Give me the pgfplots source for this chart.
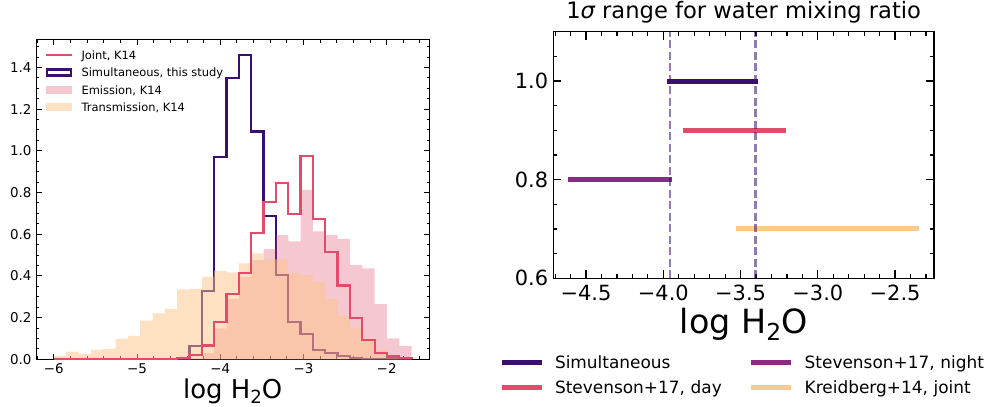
\documentclass[border=0pt]{standalone}
\usepackage{fontspec}
\setmainfont{DejaVu Sans}
\usepackage{graphicx}
\usepackage{pgfplots}
\pgfplotsset{compat=1.18}
\usepackage{pgfplotstable}

\definecolor{simul}{HTML}{3B0F70}
\definecolor{joint}{HTML}{E24C6A}
\definecolor{night}{HTML}{8C2981}
\definecolor{kreid}{HTML}{FDCA8E}
\definecolor{emis}{HTML}{DE4968}
\definecolor{trans}{HTML}{FEC488}

\newcommand\hsub[1]{\raisebox{-0.22em}{\scalebox{0.7}{#1}}}

% posterior densities of log H2O, shared bins from -6 to -1.7 (29 bins)
\pgfplotstableread{
edge    trans emis  joint simul
-6.0000 0.016 0     0     0
-5.8517 0.037 0     0     0
-5.7034 0.026 0     0     0
-5.5552 0.045 0     0     0
-5.4069 0.050 0     0     0
-5.2586 0.098 0     0     0
-5.1103 0.112 0     0     0
-4.9621 0.186 0     0     0
-4.8138 0.220 0     0     0
-4.6655 0.242 0     0.003 0
-4.5172 0.335 0     0.008 0
-4.3690 0.338 0.005 0.020 0.064
-4.2207 0.396 0.030 0.066 0.328
-4.0724 0.423 0.148 0.180 0.971
-3.9241 0.417 0.290 0.313 1.348
-3.7759 0.460 0.396 0.415 1.460
-3.6276 0.508 0.476 0.604 1.092
-3.4793 0.479 0.528 0.756 0.686
-3.3310 0.479 0.596 0.844 0.405
-3.1828 0.415 0.566 0.697 0.180
-3.0345 0.404 0.813 0.975 0.120
-2.8862 0.372 0.613 0.671 0.045
-2.7379 0.290 0.596 0.516 0.030
-2.5897 0.210 0.576 0.354 0.015
-2.4414 0.148 0.452 0.198 0.006
-2.2931 0.100 0.436 0.093 0
-2.1448 0.044 0.265 0.032 0
-1.9966 0.020 0.100 0.013 0
-1.8483 0.010 0.064 0.005 0
-1.7000 0     0     0     0
}\histdata

\begin{document}
\begin{tikzpicture}

% ---------------- left: histograms ----------------
\begin{axis}[
  at={(36bp,47.7bp)}, anchor=south west,
  scale only axis, width=393.5bp, height=319.3bp,
  xmin=-6.215, xmax=-1.485, ymin=0, ymax=1.5314,
  axis line style={line width=1bp, black},
  tick align=inside, tick pos=both,
  major tick length=5.5bp, minor tick length=3bp,
  every tick/.style={black, line width=0.9bp},
  xtick={-6,-5,-4,-3,-2},
  xticklabels={−6,−5,−4,−3,−2},
  ytick={0,0.2,0.4,0.6,0.8,1.0,1.2,1.4},
  yticklabels={0.0,0.2,0.4,0.6,0.8,1.0,1.2,1.4},
  minor xtick={-6.2,-6.0,...,-1.55},
  minor ytick={0,0.05,...,1.52},
  xticklabel style={font=\fontsize{13.5}{16}\selectfont, anchor=north, inner sep=0pt, yshift=-4bp},
  yticklabel style={font=\fontsize{13.5}{16}\selectfont, anchor=east, inner sep=0pt, xshift=-4.3bp},
  xlabel={log H\hsub{2}O},
  xlabel style={at={(axis description cs:0.5,-0.1221)}, anchor=base, inner sep=0pt, font=\fontsize{26}{30}\selectfont},
  legend style={at={(axis description cs:0.0229,0.9677)}, anchor=north west,
    draw=none, fill=none, inner sep=0pt, outer sep=0pt, row sep=5.4bp,
    font=\fontsize{11.5}{13}\selectfont,
    cells={anchor=base west},
    nodes={inner sep=0pt, outer sep=0pt, text height=9bp, text depth=3bp},
    /tikz/every odd column/.style={column sep=8.6bp}},
]
\addlegendimage{legend image code/.code={\draw[joint, line width=2.2bp] (0bp,4.3bp) -- (25.7bp,4.3bp);}}
\addlegendentry{Joint, K14}
\addlegendimage{legend image code/.code={\draw[simul, fill=none, line width=2.3bp] (1.1bp,1.3bp) rectangle (24.6bp,7.3bp);}}
\addlegendentry{Simultaneous, this study}
\addlegendimage{legend image code/.code={\fill[draw=none, fill=emis, fill opacity=0.3] (0bp,0.3bp) rectangle (25.7bp,8.3bp);}}
\addlegendentry{Emission, K14}
\addlegendimage{legend image code/.code={\fill[draw=none, fill=trans, fill opacity=0.5] (0bp,0.3bp) rectangle (25.7bp,8.3bp);}}
\addlegendentry{Transmission, K14}

\addplot[const plot, draw=simul, line width=2.3bp, forget plot]
  table[x=edge, y=simul]{\histdata};
\addplot[const plot, fill=emis, fill opacity=0.3, draw=none, forget plot]
  table[x=edge, y=emis]{\histdata} \closedcycle;
\addplot[const plot, fill=trans, fill opacity=0.5, draw=none, forget plot]
  table[x=edge, y=trans]{\histdata} \closedcycle;
\addplot[const plot, draw=joint, line width=2.2bp, forget plot]
  table[x=edge, y=joint]{\histdata};
\end{axis}

% ---------------- right: 1 sigma ranges ----------------
\begin{axis}[
  at={(553.3bp,128.7bp)}, anchor=south west,
  scale only axis, width=380.7bp, height=246.6bp,
  xmin=-4.712, xmax=-2.248, ymin=0.6, ymax=1.1,
  axis line style={line width=1.2bp, black},
  tick align=inside, tick pos=both,
  major tick length=8bp, minor tick length=4bp,
  every tick/.style={black, line width=1.2bp},
  xtick={-4.5,-4.0,-3.5,-3.0,-2.5},
  xticklabels={−4.5,−4.0,−3.5,−3.0,−2.5},
  ytick={0.6,0.8,1.0},
  yticklabels={0.6,0.8,1.0},
  minor xtick={-4.7,-4.6,...,-2.25},
  minor ytick={0.6,0.65,...,1.12},
  xticklabel style={font=\fontsize{21}{24}\selectfont, anchor=north, inner sep=0pt, yshift=-6.7bp},
  yticklabel style={font=\fontsize{21}{24}\selectfont, anchor=east, inner sep=0pt, xshift=-5bp},
  xlabel={log H\hsub{2}O},
  xlabel style={at={(axis description cs:0.5,-0.2230)}, anchor=base, inner sep=0pt, font=\fontsize{33.5}{40}\selectfont},
  title={1{\itshape σ} range for water mixing ratio},
  title style={at={(axis description cs:0.5,1)}, anchor=base, inner sep=0pt, yshift=7.7bp, font=\fontsize{22.7}{27}\selectfont},
  legend columns=2,
  legend style={at={(axis description cs:-0.1426,-0.31225)}, anchor=north west,
    draw=none, fill=none, inner sep=0pt, outer sep=0pt, row sep=8bp,
    font=\fontsize{17}{20}\selectfont,
    cells={anchor=base west},
    nodes={inner sep=0pt, outer sep=0pt, text height=13bp, text depth=4bp, text width=193.7bp, align=left},
    /tikz/every odd column/.style={column sep=11bp}},
]
\addlegendimage{legend image code/.code={\draw[simul, line width=5bp] (0bp,5.6bp) -- (40bp,5.6bp);}}
\addlegendentry{Simultaneous}
\addlegendimage{legend image code/.code={\draw[night, line width=5bp] (0bp,5.6bp) -- (40bp,5.6bp);}}
\addlegendentry{Stevenson+17, night}
\addlegendimage{legend image code/.code={\draw[joint, line width=5bp] (0bp,5.6bp) -- (40bp,5.6bp);}}
\addlegendentry{Stevenson+17, day}
\addlegendimage{legend image code/.code={\draw[kreid, line width=5bp] (0bp,5.6bp) -- (40bp,5.6bp);}}
\addlegendentry{Kreidberg+14, joint}

\addplot[simul, line width=5bp, line cap=rect, forget plot] coordinates {(-3.957,1.0) (-3.402,1.0)};
\addplot[joint, line width=5bp, line cap=rect, forget plot] coordinates {(-3.855,0.9) (-3.220,0.9)};
\addplot[night, line width=5bp, line cap=rect, forget plot] coordinates {(-4.600,0.8) (-3.957,0.8)};
\addplot[kreid, line width=5bp, line cap=rect, forget plot] coordinates {(-3.514,0.7) (-2.360,0.7)};
% edges of the simultaneous range
\addplot[simul, draw opacity=0.55, line width=2.5bp, dash pattern=on 8bp off 3.5bp, forget plot] coordinates {(-3.957,0.6) (-3.957,1.1)};
\addplot[simul, draw opacity=0.55, line width=2.5bp, dash pattern=on 8bp off 3.5bp, forget plot] coordinates {(-3.402,0.6) (-3.402,1.1)};
\end{axis}

\pgfresetboundingbox
\path[use as bounding box] (0bp,0bp) rectangle (988bp,407bp);
\end{tikzpicture}
\end{document}
